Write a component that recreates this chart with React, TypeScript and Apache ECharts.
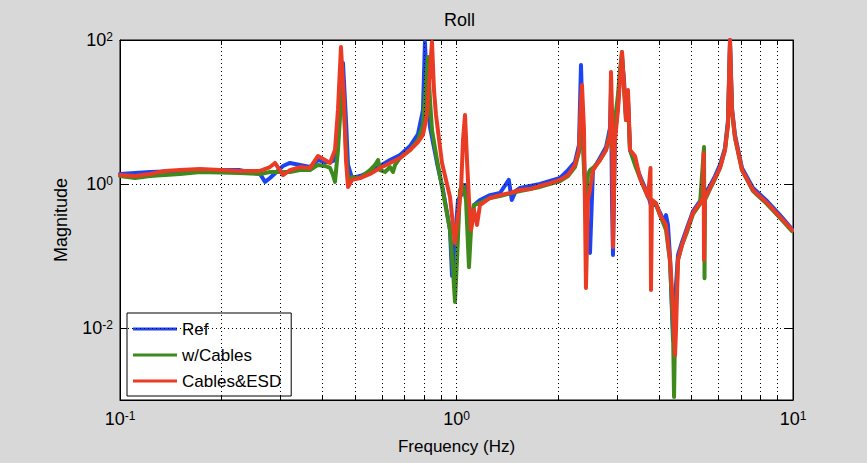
import React, { useEffect, useRef } from "react";
import * as echarts from "echarts";

const FONT = "'Liberation Sans', Arial, Helvetica, sans-serif";

const seriesNames = ["Ref", "w/Cables", "Cables&ESD"];
const seriesColors = ["#1c44f2", "#3f8a1c", "#ea3b25"];

// [frequency Hz, magnitude]
const refData: number[][] = [
  [0.1, 1.38], [0.1108, 1.42], [0.1228, 1.47], [0.1508, 1.52], [0.1729, 1.56], [0.2273, 1.56],
  [0.2607, 1.38], [0.2698, 1.07], [0.2791, 1.21], [0.3051, 1.78], [0.32, 1.96], [0.3428, 1.84],
  [0.367, 1.72], [0.3877, 2.15], [0.4066, 2.02], [0.4209, 2.02], [0.4355, 2.15], [0.4444, 4.08],
  [0.4599, 48.0], [0.4694, 7.74], [0.476, 1.84], [0.4893, 1.21], [0.5168, 1.29], [0.5533, 1.47],
  [0.5925, 1.78], [0.6345, 2.15], [0.6796, 2.53], [0.7278, 3.37], [0.7685, 4.95], [0.795, 10.7],
  [0.8058, 93.8], [0.8171, 20.2], [0.8341, 6.19], [0.8752, 1.96], [0.9118, 0.825], [0.9565, 0.23],
  [0.9697, 0.053], [0.9897, 0.167], [1.0104, 0.6], [1.0313, 0.7], [1.06, 0.97], [1.0744, 0.7],
  [1.0966, 0.23], [1.1271, 0.51], [1.1744, 0.6], [1.258, 0.7], [1.3468, 0.75], [1.43, 1.14],
  [1.46, 0.6], [1.5, 0.8], [1.5444, 0.88], [1.7709, 1.0], [2.031, 1.21], [2.145, 1.56], [2.25, 2.02],
  [2.312, 3.48], [2.344, 44.9], [2.36, 14.7], [2.393, 2.15], [2.442, 0.316], [2.493, 0.11],
  [2.544, 1.56], [2.669, 2.3], [2.782, 3.26], [2.859, 6.0], [2.878, 20.2], [2.898, 0.6],
  [2.918, 0.103], [2.958, 4.8], [3.019, 12.5], [3.061, 32.6], [3.103, 56.2], [3.146, 27.8],
  [3.189, 9.09], [3.233, 14.7], [3.278, 2.97], [3.392, 1.96], [3.51, 1.29], [3.633, 0.88],
  [3.708, 0.7], [3.784, 0.51], [3.916, 0.51], [4.025, 0.4], [4.14, 0.297], [4.194, 0.37],
  [4.25, 0.27], [4.311, 0.094], [4.4, 0.0068], [4.461, 0.0245], [4.552, 0.103], [4.679, 0.156],
  [4.842, 0.245], [5.045, 0.42], [5.292, 0.58], [5.439, 0.7], [5.666, 0.94], [5.864, 1.29],
  [6.068, 1.84], [6.279, 3.16], [6.409, 7.74], [6.498, 100], [6.587, 11.4], [6.723, 4.8],
  [7.054, 1.67], [7.604, 0.88], [8.372, 0.58], [9.149, 0.37], [9.93, 0.237],
];

const cablesData: number[][] = [
  [0.1, 1.29], [0.1108, 1.21], [0.1228, 1.29], [0.1508, 1.38], [0.1729, 1.47], [0.2273, 1.42],
  [0.2607, 1.38], [0.2791, 1.47], [0.3051, 1.47], [0.32, 1.47], [0.3428, 1.56], [0.367, 1.56],
  [0.3877, 1.84], [0.4066, 1.78], [0.4209, 1.67], [0.4295, 1.33], [0.4355, 1.07], [0.4444, 2.97],
  [0.4567, 23.7], [0.463, 10.7], [0.4694, 2.97], [0.476, 1.14], [0.4893, 1.25], [0.5168, 1.21],
  [0.5533, 1.56], [0.5727, 1.84], [0.5846, 2.15], [0.5925, 1.56], [0.6131, 1.47], [0.6345, 1.72],
  [0.6476, 1.47], [0.6569, 1.84], [0.6796, 2.3], [0.7278, 2.97], [0.7685, 4.08], [0.795, 6.59],
  [0.8228, 58.0], [0.8341, 14.7], [0.8456, 5.62], [0.8752, 2.15], [0.9118, 0.774], [0.9565, 0.23],
  [0.9763, 0.064], [0.9897, 0.023], [1.0034, 0.088], [1.0242, 0.825], [1.0455, 0.97], [1.0672, 0.6],
  [1.0891, 0.07], [1.1042, 0.23], [1.1271, 0.51], [1.1744, 0.545], [1.258, 0.64], [1.3468, 0.68],
  [1.5444, 0.8], [1.7709, 0.91], [2.031, 1.1], [2.145, 1.29], [2.25, 1.72], [2.312, 2.78],
  [2.344, 10.7], [2.36, 7.74], [2.393, 1.56], [2.425, 0.6], [2.459, 1.33], [2.493, 1.56],
  [2.544, 1.67], [2.669, 2.15], [2.782, 2.97], [2.859, 5.27], [2.898, 2.97], [2.958, 7.74],
  [3.019, 17.2], [3.061, 38.3], [3.103, 68.1], [3.146, 21.5], [3.189, 7.74], [3.233, 14.7],
  [3.278, 2.97], [3.392, 1.84], [3.51, 1.21], [3.633, 0.825], [3.708, 0.66], [3.784, 0.6],
  [3.916, 0.51], [4.025, 0.37], [4.194, 0.23], [4.311, 0.083], [4.4, 0.0094], [4.431, 0.0011],
  [4.461, 0.0094], [4.552, 0.088], [4.679, 0.142], [4.842, 0.215], [5.045, 0.383], [5.292, 0.527],
  [5.439, 3.26], [5.458, 0.049], [5.476, 0.6], [5.666, 0.85], [5.864, 1.17], [6.068, 1.67],
  [6.279, 2.97], [6.409, 6.81], [6.498, 85.2], [6.587, 10], [6.723, 4.36], [7.054, 1.56],
  [7.604, 0.8], [8.372, 0.527], [9.149, 0.337], [9.93, 0.222],
];

const esdData: number[][] = [
  [0.1, 1.33], [0.1108, 1.29], [0.1228, 1.38], [0.136, 1.52], [0.1508, 1.56], [0.1729, 1.62],
  [0.1983, 1.56], [0.2273, 1.52], [0.2607, 1.52], [0.2791, 1.72], [0.2888, 1.96], [0.3051, 1.33],
  [0.32, 1.56], [0.3428, 1.72], [0.367, 1.67], [0.3877, 2.45], [0.4066, 2.15], [0.4209, 1.96],
  [0.4355, 2.97], [0.4444, 10.7], [0.4536, 79.9], [0.463, 14.7], [0.4694, 2.15], [0.476, 0.91],
  [0.4893, 1.14], [0.5168, 1.21], [0.5533, 1.38], [0.5925, 1.67], [0.6345, 1.96], [0.6796, 2.3],
  [0.7278, 2.97], [0.7685, 3.83], [0.795, 4.8], [0.8171, 9.09], [0.8341, 38.3], [0.8456, 93.8],
  [0.8573, 20.2], [0.8691, 9.09], [0.9056, 1.96], [0.9565, 0.66], [0.9897, 0.15], [1.0104, 0.37],
  [1.0313, 0.825], [1.0455, 4.08], [1.06, 9.09], [1.0744, 2.15], [1.0891, 0.6], [1.1042, 0.23],
  [1.1271, 0.435], [1.1503, 0.27], [1.1744, 0.51], [1.258, 0.64], [1.3468, 0.7], [1.4421, 0.75],
  [1.5444, 0.825], [1.6539, 0.85], [1.7709, 0.94], [1.8968, 1.03], [2.031, 1.14], [2.145, 1.33],
  [2.25, 1.84], [2.312, 2.97], [2.344, 14.7], [2.36, 23.7], [2.393, 5.62], [2.425, 0.036],
  [2.459, 0.6], [2.493, 0.825], [2.544, 1.56], [2.669, 2.15], [2.782, 2.97], [2.859, 4.8],
  [2.878, 35.9], [2.898, 10.7], [2.918, 0.133], [2.958, 4.08], [3.019, 10.7], [3.061, 27.8],
  [3.103, 68.1], [3.146, 23.7], [3.189, 7.74], [3.233, 20.2], [3.278, 2.97], [3.392, 2.45],
  [3.51, 1.21], [3.633, 0.825], [3.708, 0.66], [3.771, 1.67], [3.784, 0.0337], [3.81, 0.6],
  [3.916, 0.545], [4.025, 0.37], [4.194, 0.27], [4.311, 0.088], [4.37, 0.0337], [4.431, 0.0094],
  [4.461, 0.0042], [4.491, 0.0094], [4.552, 0.088], [4.679, 0.142], [4.842, 0.23], [5.045, 0.4],
  [5.292, 0.545], [5.402, 0.64], [5.425, 2.7], [5.439, 0.088], [5.476, 0.64], [5.666, 0.88],
  [5.864, 1.21], [6.068, 1.67], [6.279, 2.97], [6.409, 6.59], [6.498, 100], [6.587, 10.7],
  [6.723, 4.5], [7.054, 1.56], [7.604, 0.825], [8.372, 0.545], [9.149, 0.35], [9.93, 0.23],
];

const xGridValues = [0.2, 0.3, 0.4, 0.5, 0.6, 0.7, 0.8, 0.9, 1, 2, 3, 4, 5, 6, 7, 8, 9];
const xTickValues = [0.1, 0.2, 0.3, 0.4, 0.5, 0.6, 0.7, 0.8, 0.9, 1, 2, 3, 4, 5, 6, 7, 8, 9, 10];
const yGridValues = [0.01, 1];
const yTickValues = [0.01, 1, 100];
const yLabelExponents = [-2, 0, 2];

const rich = {
  b: { fontSize: 18, fontFamily: FONT, color: "#000", lineHeight: 18, padding: [8, 0, 0, 0], verticalAlign: "bottom" },
  s: { fontSize: 12, fontFamily: FONT, color: "#000", lineHeight: 12, verticalAlign: "top" },
};

function powLabel(v: number): string {
  const e = Math.round(Math.log10(v));
  return `{b|10}{s|${e}}`;
}

export default function App() {
  const ref = useRef<HTMLDivElement>(null);
  useEffect(() => {
    if (!ref.current) return;
    const chart = echarts.init(ref.current, null, { renderer: "svg" });
    const axisLine = { show: true, lineStyle: { color: "#000", width: 1 } };
    const dataSeries = [refData, cablesData, esdData].map((d, i) => ({
      name: seriesNames[i],
      type: "line",
      data: d,
      showSymbol: false,
      symbol: "none",
      clip: true,
      z: 3 + i,
      lineStyle: { color: seriesColors[i], width: 4, join: "round", cap: "round" },
      itemStyle: { color: seriesColors[i] },
      emphasis: { disabled: true },
    }));
    chart.setOption({
      animation: false,
      backgroundColor: "#d8d8d8",
      title: {
        text: "Roll",
        left: 439,
        top: 6,
        textStyle: { fontFamily: FONT, fontSize: 18, fontWeight: "normal", color: "#000" },
      },
      legend: {
        orient: "vertical",
        left: 127,
        top: 313,
        data: seriesNames,
        icon: "rect",
        itemWidth: 44,
        itemHeight: 3,
        itemGap: 6,
        padding: [6, 10, 5, 6],
        backgroundColor: "#fff",
        borderColor: "#000",
        borderWidth: 1,
        borderRadius: 0,
        textStyle: { fontFamily: FONT, fontSize: 17, lineHeight: 20, color: "#000" },
      },
      grid: {
        left: 120,
        right: 74,
        top: 40,
        bottom: 63,
        show: true,
        backgroundColor: "#fff",
        borderColor: "#000",
        borderWidth: 1,
      },
      xAxis: [
        {
          type: "log",
          logBase: 10,
          min: 0.1,
          max: 10,
          position: "bottom",
          name: "Frequency (Hz)",
          nameLocation: "middle",
          nameGap: 38,
          nameTextStyle: { fontFamily: FONT, fontSize: 17, color: "#000" },
          axisLine,
          axisTick: { show: true, inside: true, length: 5, customValues: xTickValues, lineStyle: { color: "#000" } },
          axisLabel: { margin: 10, formatter: powLabel, rich },
          splitLine: { show: false },
        },
        {
          type: "log",
          logBase: 10,
          min: 0.1,
          max: 10,
          position: "top",
          axisLine,
          axisTick: { show: true, inside: true, length: 5, customValues: xTickValues, lineStyle: { color: "#000" } },
          axisLabel: { show: false },
          splitLine: { show: false },
        },
      ],
      yAxis: [
        {
          type: "log",
          logBase: 10,
          min: 0.001,
          max: 100,
          position: "left",
          name: "Magnitude",
          nameLocation: "middle",
          nameGap: 50,
          nameTextStyle: { fontFamily: FONT, fontSize: 18, color: "#000" },
          axisLine,
          axisTick: { show: true, inside: true, length: 8, customValues: yTickValues, lineStyle: { color: "#000" } },
          axisLabel: {
            margin: 7,
            rich,
            formatter: (v: number) => {
              const e = Math.round(Math.log10(v));
              return yLabelExponents.includes(e) ? powLabel(v) : "";
            },
          },
          splitLine: { show: false },
        },
        {
          type: "log",
          logBase: 10,
          min: 0.001,
          max: 100,
          position: "right",
          axisLine,
          axisTick: { show: true, inside: true, length: 8, customValues: yTickValues, lineStyle: { color: "#000" } },
          axisLabel: { show: false },
          splitLine: { show: false },
        },
      ],
      series: [
        {
          type: "line",
          data: [],
          silent: true,
          z: 1,
          markLine: {
            silent: true,
            symbol: ["none", "none"],
            label: { show: false },
            emphasis: { disabled: true },
            lineStyle: { color: "#000", type: [1, 3], width: 1 },
            data: [
              ...xGridValues.map((v) => ({ xAxis: v })),
              ...yGridValues.map((v) => ({ yAxis: v })),
            ],
          },
        },
        ...dataSeries,
      ],
    });
    return () => chart.dispose();
  }, []);
  return (
    <div
      ref={ref}
      style={{ position: "absolute", left: 0, top: 0, width: 867, height: 463 }}
    />
  );
}
